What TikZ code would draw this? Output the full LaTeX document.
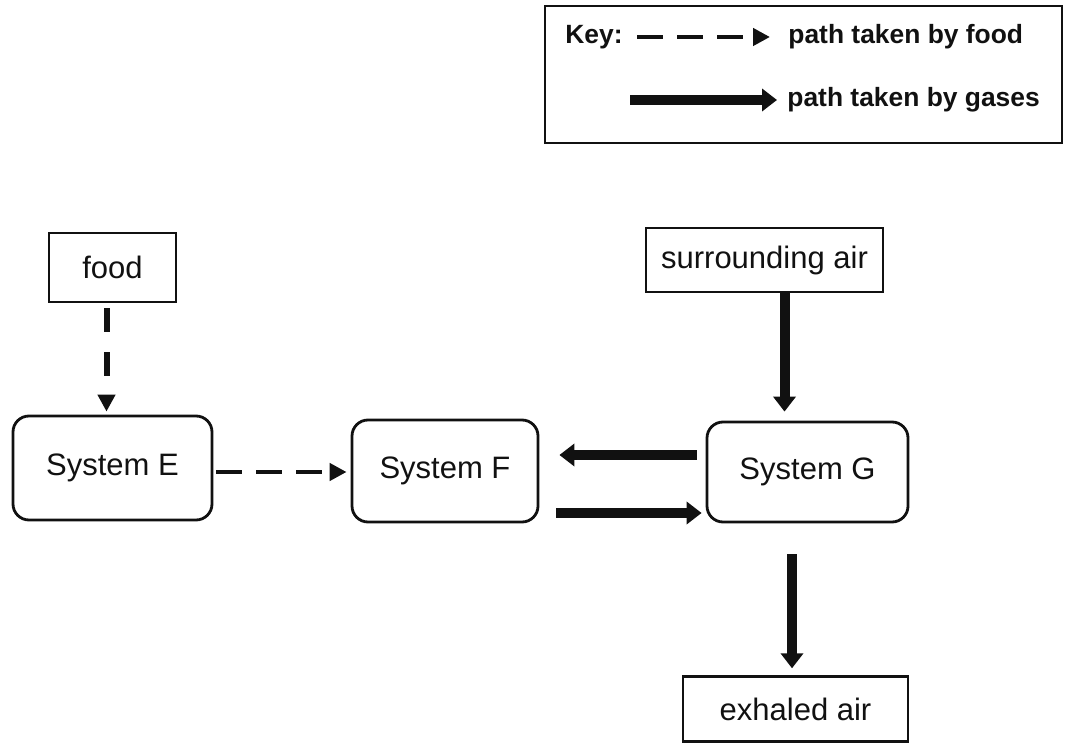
\documentclass[tikz,border=0pt]{standalone}
\usepackage{fontspec}
\setmainfont{Liberation Sans}
\usepackage{tikz}
\usetikzlibrary{
  arrows.meta,
  positioning,
  calc
}
\definecolor{ink}{HTML}{111111}
\tikzset{
  sysbox/.style={
    draw=ink, line width=1.4pt, rounded corners=8pt, align=center,
    font=\fontsize{15.5}{18}\selectfont, text=ink
  },
  srcbox/.style={
    draw=ink, line width=1.2pt, align=center,
    font=\fontsize{15.5}{18}\selectfont, text=ink
  },
  keybox/.style={draw=ink, line width=1.2pt},
  keytext/.style={font=\fontsize{13.2}{16}\selectfont\bfseries, text=ink, anchor=west, inner sep=0pt},
  foodpath/.style={
    -{Triangle[length=8.5pt, width=8.5pt]}, draw=ink, line width=2.2pt,
    dash pattern=on 13pt off 7pt
  },
  gaspath/.style={
    -{Triangle[length=7.5pt, width=11pt]}, draw=ink, line width=5pt
  }
}

\begin{document}
\begin{tikzpicture}[x=0.5pt, y=-0.5pt]
  \useasboundingbox (0,0) rectangle (1068,747);

  % key
  \node[keybox, minimum width=258.5pt, minimum height=68.5pt] (key) at (803.5,74.5) {};
  \node[keytext] (keylbl) at (565,37) {Key:};
  \coordinate (kfa) at (637,37);
  \coordinate (kfb) at (770,37);
  \coordinate (kga) at (630,100);
  \coordinate (kgb) at (777,100);
  \draw[foodpath] (kfa) -- (kfb);
  \draw[gaspath] (kga) -- (kgb);
  \node[keytext] (kfood) at (788,37) {path taken by food};
  \node[keytext] (kgas) at (787,100) {path taken by gases};

  % boxes
  \node[srcbox, minimum width=63.5pt, minimum height=34.5pt] (food) at (112.5,267.5) {food};
  \node[srcbox, minimum width=118.5pt, minimum height=32pt] (air) at (764.5,260) {surrounding air};
  \node[sysbox, minimum width=99.5pt, minimum height=52pt] (sysE) at (112.5,468) {System E};
  \node[sysbox, minimum width=93pt, minimum height=51pt] (sysF) at (445,471) {System F};
  \node[sysbox, minimum width=100.5pt, minimum height=50pt] (sysG) at (807.5,472) {System G};
  \node[srcbox, minimum width=112.5pt, minimum height=32.5pt] (exhaled) at (795.5,709) {exhaled air};

  % food
  \draw[foodpath, line width=3pt, dash pattern=on 12pt off 10pt, shorten <=2.5pt, shorten >=1.5pt]
    ([xshift=-3pt]food.south) -- ([xshift=-3pt]food.south |- sysE.north);
  \draw[foodpath, shorten <=1.5pt, shorten >=2pt]
    ([yshift=-2pt]sysE.east) -- ([yshift=-2pt]sysE.east -| sysF.west);

  % gases
  \draw[gaspath, shorten >=4.5pt]
    ([xshift=10pt]air.south) -- ([xshift=10pt]air.south |- sysG.north);
  \draw[gaspath, shorten <=4.5pt, shorten >=10pt]
    ([yshift=8.5pt]sysG.west) -- ([yshift=8.5pt]sysG.west -| sysF.east);
  \draw[gaspath, shorten <=8.5pt, shorten >=2pt]
    ([yshift=-21pt]sysF.east) -- ([yshift=-21pt]sysF.east -| sysG.west);
  \draw[gaspath, shorten <=15.5pt, shorten >=3.5pt]
    ([xshift=-7.75pt]sysG.south) -- ([xshift=-7.75pt]sysG.south |- exhaled.north);
\end{tikzpicture}
\end{document}
